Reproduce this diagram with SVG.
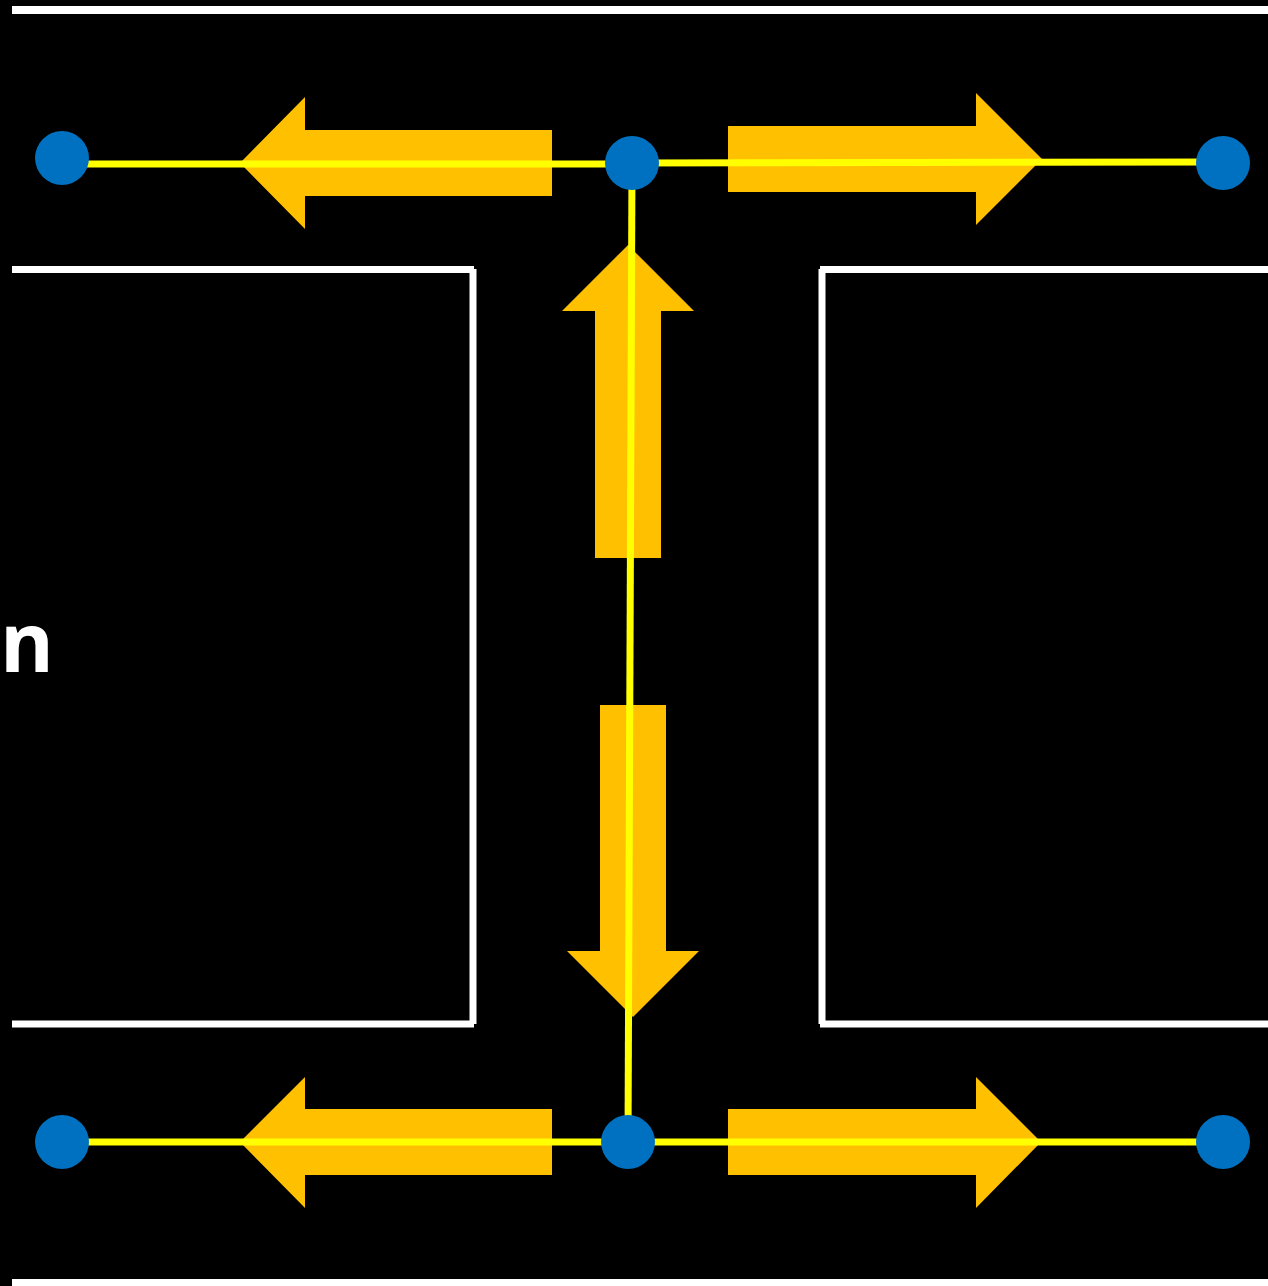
<svg xmlns="http://www.w3.org/2000/svg" width="1268" height="1286" viewBox="0 0 1268 1286">
<style>
.wall{stroke:#FFFFFF;stroke-width:7;fill:none}
.arrow{fill:#FFC000}
.link{stroke:#FFFF00;stroke-width:7;fill:none}
.node{fill:#0070C0}
.lbl{font-family:"Open Sans","Noto Sans",sans-serif;font-weight:bold;font-size:82px;fill:#FFFFFF}
</style>
<rect x="0" y="0" width="1268" height="1286" fill="#000000"/>
<g id="walls">
<line class="wall" x1="12" y1="10" x2="1268" y2="10" style="stroke-width:8"/>
<line class="wall" x1="12" y1="1283" x2="1268" y2="1283" style="stroke-width:8"/>
<line class="wall" x1="12" y1="269.5" x2="474" y2="269.5"/>
<line class="wall" x1="473" y1="269" x2="473" y2="1024"/>
<line class="wall" x1="12" y1="1024" x2="474" y2="1024"/>
<line class="wall" x1="820" y1="269.5" x2="1268" y2="269.5"/>
<line class="wall" x1="822" y1="269" x2="822" y2="1024"/>
<line class="wall" x1="820" y1="1024" x2="1268" y2="1024"/>
</g>
<text class="lbl" x="0" y="672">n</text>
<g id="arrows">
<polygon class="arrow" points="552,130 305,130 305,97 240,163 305,229 305,196 552,196"/>
<polygon class="arrow" points="728,126 976,126 976,93 1042,159 976,225 976,192 728,192"/>
<polygon class="arrow" points="595,558 595,311 562,311 628,245 694,311 661,311 661,558"/>
<polygon class="arrow" points="600,705 600,951 567,951 633,1017 699,951 666,951 666,705"/>
<polygon class="arrow" points="552,1109 305,1109 305,1077 240,1142 305,1208 305,1175 552,1175"/>
<polygon class="arrow" points="728,1109 976,1109 976,1077 1041,1142 976,1208 976,1175 728,1175"/>
</g>
<g id="connectors">
<line class="link" x1="62" y1="164" x2="632" y2="164"/>
<line class="link" x1="632" y1="163" x2="1223" y2="162"/>
<line class="link" x1="632" y1="163" x2="628" y2="1142"/>
<line class="link" x1="62" y1="1142" x2="1223" y2="1142"/>
</g>
<g id="node-tl"><circle class="node" cx="62" cy="158" r="27"/></g>
<g id="node-tc"><circle class="node" cx="632" cy="163" r="27"/></g>
<g id="node-tr"><circle class="node" cx="1223" cy="163" r="27"/></g>
<g id="node-bl"><circle class="node" cx="62" cy="1142" r="27"/></g>
<g id="node-bc"><circle class="node" cx="628" cy="1142" r="27"/></g>
<g id="node-br"><circle class="node" cx="1223" cy="1142" r="27"/></g>
</svg>
